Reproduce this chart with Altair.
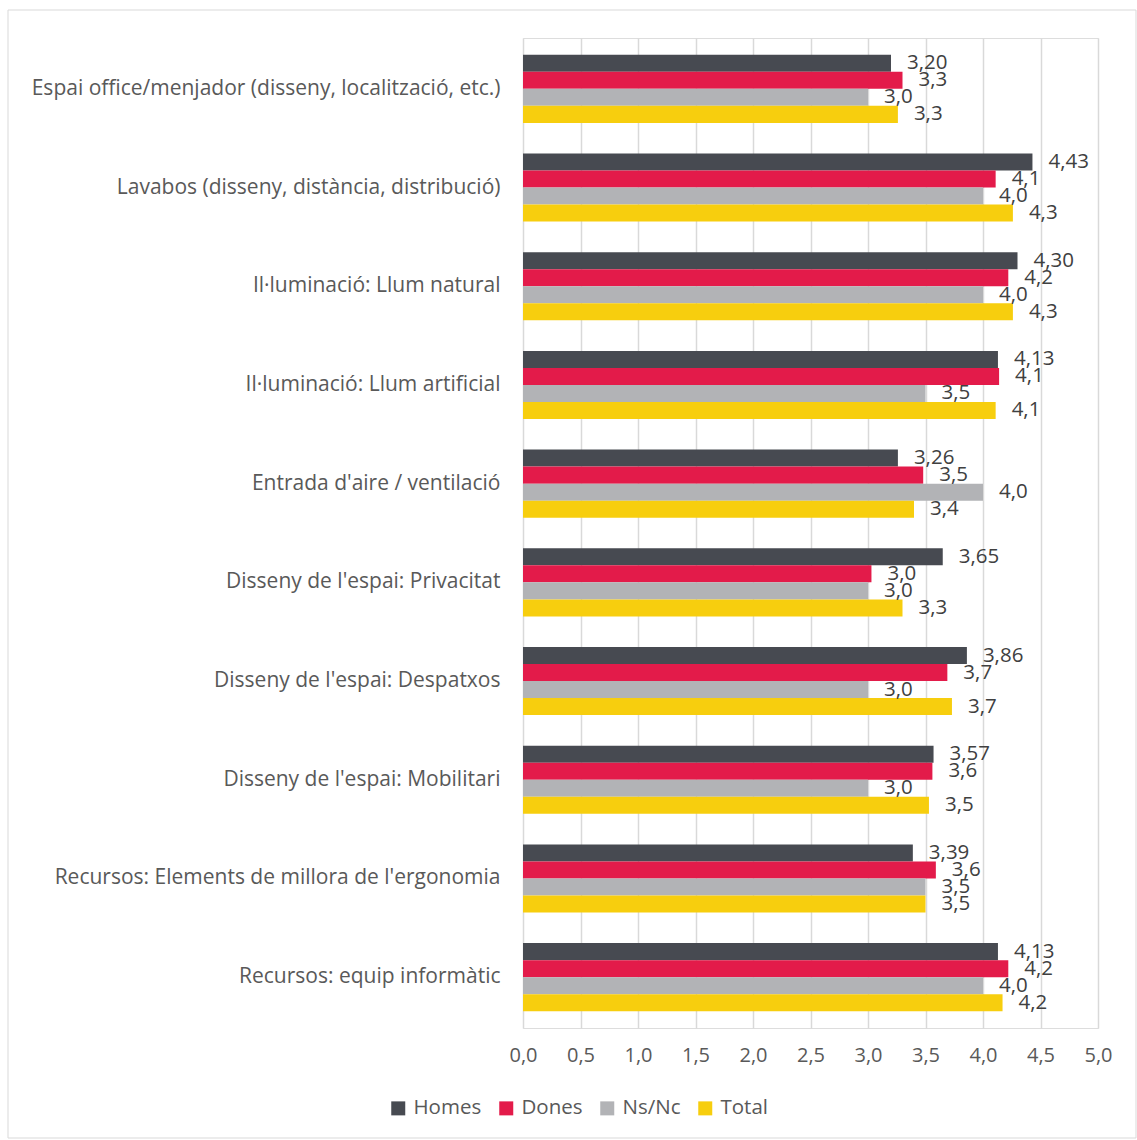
import altair as alt
import pandas as pd

categories = [
    "Espai office/menjador (disseny, localització, etc.)",
    "Lavabos (disseny, distància, distribució)",
    "Il·luminació: Llum natural",
    "Il·luminació: Llum artificial",
    "Entrada d'aire / ventilació",
    "Disseny de l'espai: Privacitat",
    "Disseny de l'espai: Despatxos",
    "Disseny de l'espai: Mobilitari",
    "Recursos: Elements de millora de l'ergonomia",
    "Recursos: equip informàtic",
]
series = ["Homes", "Dones", "Ns/Nc", "Total"]
homes = [3.20, 4.43, 4.30, 4.13, 3.26, 3.65, 3.86, 3.57, 3.39, 4.13]
dones = [3.30, 4.11, 4.22, 4.14, 3.48, 3.03, 3.69, 3.56, 3.59, 4.22]
nsnc = [3.0, 4.0, 4.0, 3.5, 4.0, 3.0, 3.0, 3.0, 3.5, 4.0]
total = [3.26, 4.26, 4.26, 4.11, 3.40, 3.30, 3.73, 3.53, 3.50, 4.17]
colors = ["#474A51", "#E31B4A", "#B2B3B6", "#F7CE0E"]
x_ticks = [0, 0.5, 1, 1.5, 2, 2.5, 3, 3.5, 4, 4.5, 5]

rows = []
for s, vals in zip(series, [homes, dones, nsnc, total]):
    for c, v in zip(categories, vals):
        rows.append({"category": c, "series": s, "value": v})
df = pd.DataFrame(rows)

FONT = "Open Sans"
W, H = 575, 990

base = alt.Chart(df).encode(
    y=alt.Y("category:N", sort=categories, title=None,
            scale=alt.Scale(paddingInner=0.31, paddingOuter=0.17),
            axis=alt.Axis(labelFont=FONT, labelFontSize=21, labelColor="#595959",
                          labelPadding=23, labelLimit=600, ticks=False, domain=False,
                          grid=False)),
    yOffset=alt.YOffset("series:N", sort=series, scale=alt.Scale(paddingInner=0, paddingOuter=0)),
)

bars = base.mark_bar().encode(
    x=alt.X("value:Q", title=None,
            scale=alt.Scale(domain=[0, 5], nice=False),
            axis=alt.Axis(values=x_ticks, labelFont=FONT, labelFontSize=20,
                          labelColor="#595959", labelPadding=17, ticks=False,
                          labelFlush=False, labelOverlap=False,
                          domain=False, grid=True, gridColor="#D9D9D9", gridWidth=1.5,
                          labelExpr="replace(format(datum.value, '.1f'), '.', ',')")),
    color=alt.Color("series:N", sort=series,
                    scale=alt.Scale(domain=series, range=colors),
                    legend=alt.Legend(title=None, orient="none", direction="horizontal",
                                      legendX=-135, legendY=1060, symbolType="square",
                                      symbolSize=196, symbolStrokeWidth=0,
                                      labelFont=FONT, labelFontSize=20.5,
                                      labelColor="#595959", columnPadding=14,
                                      labelOffset=5)),
)

labels = base.mark_text(align="left", baseline="middle", dx=16, font=FONT,
                        fontSize=20.5, color="#404040").transform_calculate(
    label="replace(format(datum.value, datum.series == 'Homes' ? '.2f' : '.1f'), '.', ',')"
).encode(
    x=alt.X("value:Q"),
    text=alt.Text("label:N"),
)

frame = alt.Chart(pd.DataFrame({"k": [0]})).mark_rect(
    fill=None, stroke="#D9D9D9", strokeWidth=1
).encode(
    x=alt.value(-515), x2=alt.value(613), y=alt.value(-28), y2=alt.value(1100)
)

chart = alt.layer(frame, bars, labels).properties(
    width=W, height=H,
    autosize=alt.AutoSizeParams(type="none"),
    padding={"left": 523, "top": 38, "right": 39, "bottom": 112},
).configure_view(stroke=None).configure(background="white")

chart.save("out.html", embed_options={"renderer": "svg", "actions": False})
